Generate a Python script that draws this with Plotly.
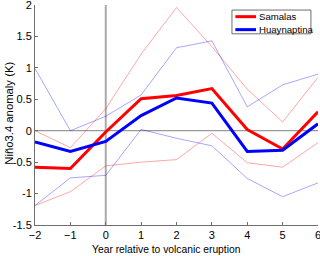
import plotly.graph_objects as go

years = [-2, -1, 0, 1, 2, 3, 4, 5, 6]
samalas_mean = [-0.58, -0.60, -0.02, 0.51, 0.56, 0.67, 0.02, -0.29, 0.30]
samalas_upper = [0.00, -0.27, 0.35, 1.22, 1.96, 1.34, 0.66, 0.14, 0.85]
samalas_lower = [-1.19, -0.97, -0.56, -0.50, -0.46, -0.04, -0.51, -0.58, -0.19]
huay_mean = [-0.18, -0.33, -0.17, 0.24, 0.52, 0.44, -0.33, -0.31, 0.11]
huay_upper = [0.99, 0.00, 0.23, 0.57, 1.32, 1.43, 0.38, 0.73, 0.90]
huay_lower = [-1.19, -0.75, -0.71, 0.02, -0.12, -0.24, -0.76, -1.05, -0.83]

x_ticks = [-2, -1, 0, 1, 2, 3, 4, 5, 6]
y_ticks = [-1.5, -1, -0.5, 0, 0.5, 1, 1.5, 2]
y_tick_labels = ["-1.5", "-1", "-0.5", "0", "0.5", "1", "1.5", "2"]
series_names = ["Samalas", "Huaynaptina"]

RED = "rgb(255,0,0)"
BLUE = "rgb(0,0,255)"
LRED = "rgba(255,0,0,0.35)"
LBLUE = "rgba(0,0,255,0.35)"
FONT = "Liberation Sans, Arial, sans-serif"

fig = go.Figure()
for ys, c in [(samalas_upper, LRED), (samalas_lower, LRED), (huay_upper, LBLUE), (huay_lower, LBLUE)]:
    fig.add_trace(go.Scatter(x=years, y=ys, mode="lines", line=dict(color=c, width=1), showlegend=False))

fig.add_trace(go.Scatter(x=years, y=samalas_mean, mode="lines", name=series_names[0],
                         line=dict(color=RED, width=3), showlegend=False))
fig.add_trace(go.Scatter(x=years, y=huay_mean, mode="lines", name=series_names[1],
                         line=dict(color=BLUE, width=3), showlegend=False))

# reference lines
fig.add_shape(type="line", x0=-2, x1=6, y0=0, y1=0, xref="x", yref="y",
              line=dict(color="rgb(128,128,128)", width=1), layer="below")
fig.add_shape(type="line", x0=0, x1=0, y0=-1.5, y1=2, xref="x", yref="y",
              line=dict(color="rgb(170,170,170)", width=2), layer="below")

# legend box (paper coords)
fig.add_shape(type="rect", xref="paper", yref="paper", x0=0.696, x1=0.975, y0=0.869, y1=0.977,
              line=dict(color="rgb(110,110,110)", width=1), fillcolor="white", layer="above")
for name, col, yy in [(series_names[0], RED, 0.947), (series_names[1], BLUE, 0.888)]:
    fig.add_shape(type="line", xref="paper", yref="paper", x0=0.708, x1=0.781, y0=yy, y1=yy,
                  line=dict(color=col, width=3), layer="above")
    fig.add_annotation(xref="paper", yref="paper", x=0.785, y=yy, text=name, showarrow=False,
                       xanchor="left", yanchor="middle", font=dict(family=FONT, size=9.6, color="black"))

# axis titles
fig.add_annotation(xref="paper", yref="paper", x=0.466, y=-0.112, text="Year relative to volcanic eruption",
                   showarrow=False, xanchor="center", yanchor="middle", font=dict(family=FONT, size=10.3, color="black"))
fig.add_annotation(xref="paper", yref="paper", x=-0.092, y=0.51, text="Niño3.4 anomaly (K)", textangle=-90,
                   showarrow=False, xanchor="center", yanchor="middle", font=dict(family=FONT, size=11.3, color="black"))

fig.update_layout(
    width=320, height=256,
    margin=dict(l=35, r=2, t=5, b=31),
    paper_bgcolor="white", plot_bgcolor="white",
    font=dict(family=FONT, size=11, color="black"),
    showlegend=False,
    xaxis=dict(range=[-2, 6], tickvals=x_ticks, ticks="inside", ticklen=3, tickcolor="rgb(110,110,110)",
               showline=True, linecolor="rgb(110,110,110)", linewidth=1, automargin=False,
               ticklabeloverflow="allow",
               showgrid=False, zeroline=False, mirror=False),
    yaxis=dict(range=[-1.5, 2], tickvals=y_ticks, ticktext=y_tick_labels, ticks="inside", ticklen=3,
               tickcolor="rgb(110,110,110)", automargin=False, ticklabeloverflow="allow",
               showline=True, linecolor="rgb(110,110,110)", linewidth=1,
               showgrid=False, zeroline=False, mirror=False),
)
fig.write_html("out.html", config={"displayModeBar": False},
               post_script="document.body.style.margin='0';document.body.style.padding='0';")
